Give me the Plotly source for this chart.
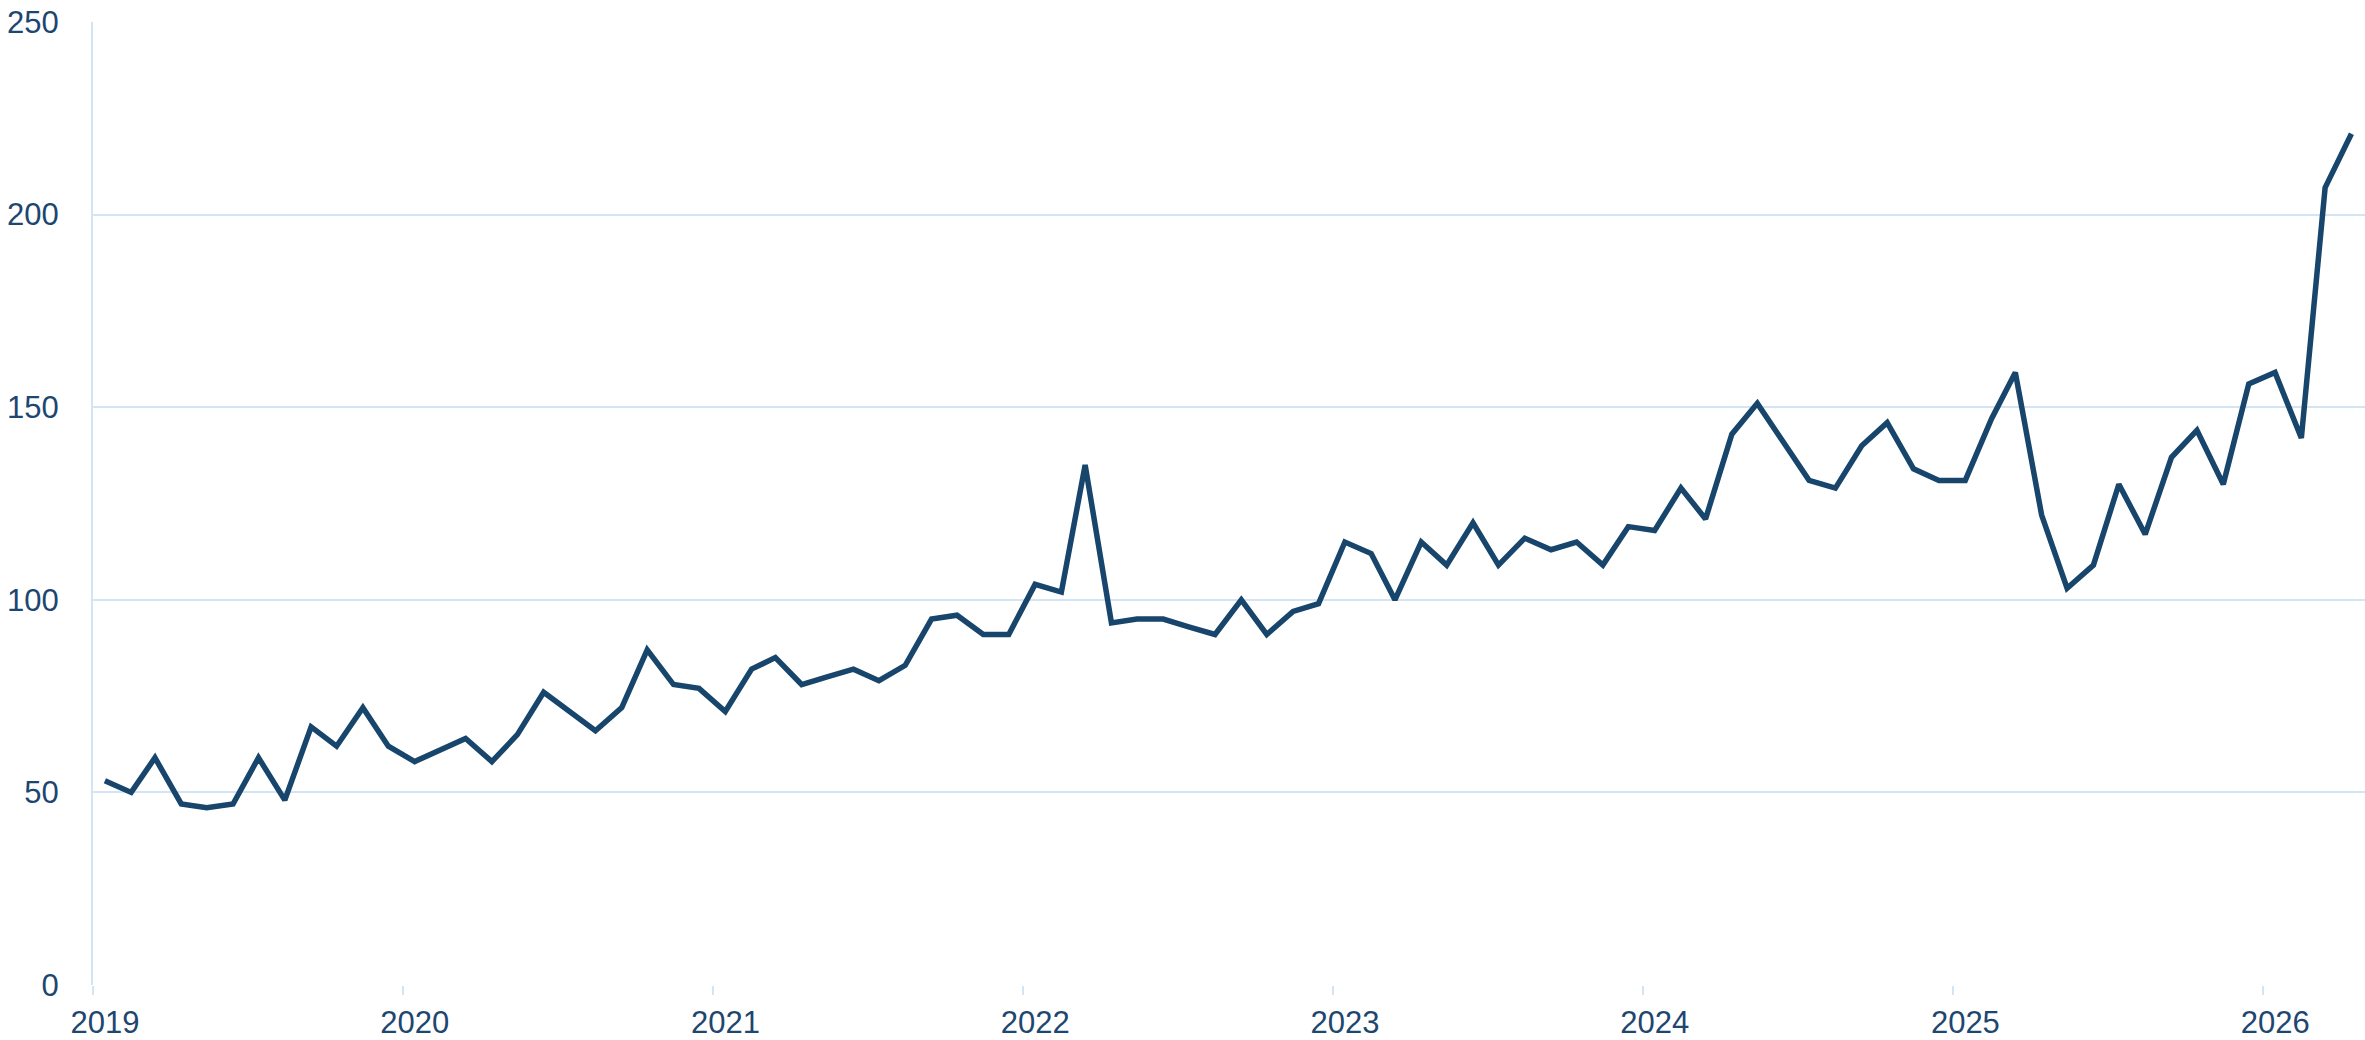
import pandas as pd
import plotly.graph_objects as go

# monthly values, Jan 2019 - Apr 2026
vals_2019 = [53, 50, 59, 47, 46, 47, 59, 48, 67, 62, 72, 62]
vals_2020 = [58, 61, 64, 58, 65, 76, 71, 66, 72, 87, 78, 77]
vals_2021 = [71, 82, 85, 78, 80, 82, 79, 83, 95, 96, 91, 91]
vals_2022 = [104, 102, 135, 94, 95, 95, 93, 91, 100, 91, 97, 99]
vals_2023 = [115, 112, 100, 115, 109, 120, 109, 116, 113, 115, 109, 119]
vals_2024 = [118, 129, 121, 143, 151, 141, 131, 129, 140, 146, 134, 131]
vals_2025 = [131, 147, 159, 122, 103, 109, 130, 117, 137, 144, 130, 156]
vals_2026 = [159, 142, 207, 221]

values = vals_2019 + vals_2020 + vals_2021 + vals_2022 + vals_2023 + vals_2024 + vals_2025 + vals_2026
months = pd.date_range("2019-01-01", "2026-04-01", freq="MS") + pd.Timedelta(days=14)

y_ticks = [0, 50, 100, 150, 200, 250]

line_col = "#17456b"
grid_col = "#d3e4f4"
text_col = "#1d4670"

fig = go.Figure()
fig.add_trace(go.Scatter(x=months, y=values, mode="lines",
                         line=dict(color=line_col, width=5.5), showlegend=False))

fig.update_layout(
    width=2365, height=1040,
    margin=dict(l=93, r=0, t=22, b=55),
    plot_bgcolor="white", paper_bgcolor="white",
    font=dict(family="Arial, Liberation Sans", size=31, color=text_col),
)
fig.update_xaxes(
    range=["2019-01-01", "2026-05-01"],
    dtick="M12", tick0="2019-01-01", tickformat="%Y",
    showgrid=False, ticks="outside", ticklen=9, tickcolor=grid_col, tickwidth=2,
    showline=False, zeroline=False, automargin=False,
    ticklabelshift=12, ticklabelstandoff=1,
)
fig.update_yaxes(
    range=[0, 250], tickvals=y_ticks,
    showgrid=True, gridcolor=grid_col, gridwidth=2,
    ticks="",
    showline=True, linecolor=grid_col, linewidth=2,
    zeroline=False, automargin=False, ticklabelstandoff=26,
)

# drop the default page margin so the figure sits at the window's corner
fig.write_html("out.html", config={"displayModeBar": False},
               post_script="document.body.style.margin='0';")
